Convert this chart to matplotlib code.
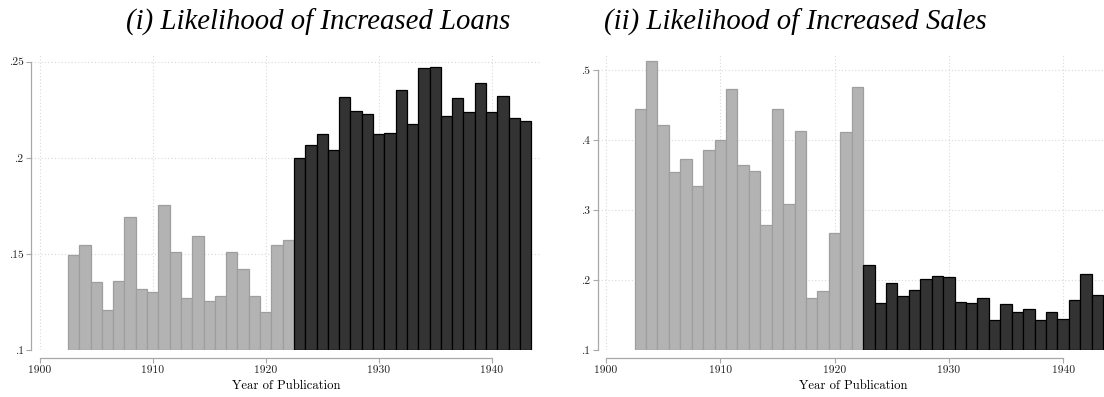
import matplotlib
matplotlib.use("Agg")
import matplotlib.pyplot as plt
import numpy as np

# Publication years and shares of titles with an increase
years = list(range(1903, 1944))
cutoff_year = 1923  # first year of the later period

loans = [0.1495, 0.1546, 0.1357, 0.1210, 0.1360, 0.1693, 0.1320, 0.1302, 0.1755, 0.1511,
         0.1274, 0.1593, 0.1258, 0.1284, 0.1510, 0.1424, 0.1281, 0.1198, 0.1546, 0.1572,
         0.2001, 0.2067, 0.2126, 0.2043, 0.2315, 0.2244, 0.2227, 0.2125, 0.2128, 0.2353,
         0.2175, 0.2466, 0.2473, 0.2217, 0.2310, 0.2240, 0.2388, 0.2239, 0.2320, 0.2206,
         0.2190]

sales = [0.4443, 0.5130, 0.4220, 0.3547, 0.3729, 0.3343, 0.3857, 0.4009, 0.4733, 0.3643,
         0.3561, 0.2786, 0.4451, 0.3086, 0.4129, 0.1743, 0.1843, 0.2671, 0.4114, 0.4761,
         0.2214, 0.1676, 0.1961, 0.1780, 0.1861, 0.2019, 0.2057, 0.2052, 0.1690, 0.1680,
         0.1752, 0.1429, 0.1657, 0.1543, 0.1590, 0.1429, 0.1552, 0.1452, 0.1714, 0.2095,
         0.1795]

xticks = [1900, 1910, 1920, 1930, 1940]
loan_yticks = [0.10, 0.15, 0.20, 0.25]
loan_ylabels = [".1", ".15", ".2", ".25"]
sales_yticks = [0.1, 0.2, 0.3, 0.4, 0.5]
sales_ylabels = [".1", ".2", ".3", ".4", ".5"]

titles = ["(i) Likelihood of Increased Loans", "(ii) Likelihood of Increased Sales"]
xlabel = "Year of Publication"

W, H = 1104, 397
fig = plt.figure(figsize=(W / 100, H / 100), dpi=100)


def px_axes(left, right, top, bottom):
    return fig.add_axes([left / W, (H - bottom) / H, (right - left) / W, (bottom - top) / H])


AXIS_GRAY = "#a8a8a8"
GRID_GRAY = "#d9d9d9"
LIGHT = "#b3b3b3"
LIGHT_EDGE = "#9e9e9e"
DARK = "#333333"
DARK_EDGE = "#000000"
TICK_FAMILY = "cmr10"
TICK_SIZE = 8.3


def draw_panel(ax, values, yticks, ylabels, xlim, ylim):
    yrs = np.array(years)
    vals = np.array(values)
    base = ylim[0]
    early = yrs < cutoff_year
    ax.bar(yrs[early], vals[early] - base, bottom=base, width=1.0,
           color=LIGHT, edgecolor=LIGHT_EDGE, linewidth=0.9, zorder=3)
    ax.bar(yrs[~early], vals[~early] - base, bottom=base, width=1.0,
           color=DARK, edgecolor=DARK_EDGE, linewidth=0.9, zorder=3)

    # axis lines first: repositioning a spine rebuilds the tick objects
    for side in ("top", "right"):
        ax.spines[side].set_visible(False)
    for side in ("left", "bottom"):
        ax.spines[side].set_color(AXIS_GRAY)
        ax.spines[side].set_linewidth(0.9)
    ax.spines["bottom"].set_position(("outward", 5.8))

    ax.set_xlim(*xlim)
    ax.set_ylim(*ylim)
    ax.set_xticks(xticks)
    ax.set_xticklabels([str(t) for t in xticks])
    ax.set_yticks(yticks)
    ax.set_yticklabels(ylabels)
    ax.spines["left"].set_bounds(yticks[0], yticks[-1])
    ax.spines["bottom"].set_bounds(xticks[0], xticks[-1])
    ax.tick_params(direction="out", length=3.3, width=0.8, color=AXIS_GRAY,
                   labelcolor="#222222", labelsize=TICK_SIZE, pad=2.0)
    for lab in ax.get_xticklabels() + ax.get_yticklabels():
        lab.set_fontfamily(TICK_FAMILY)

    ax.grid(True, color=GRID_GRAY, linestyle=(0, (1, 2)), linewidth=0.8, zorder=0)
    ax.set_axisbelow(True)


ax1 = px_axes(31, 540, 54, 350.3)
draw_panel(ax1, loans, loan_yticks, loan_ylabels, (1899.23, 1944.27), (0.10, 0.254))

ax2 = px_axes(597.7, 1112, 54, 350.3)
draw_panel(ax2, sales, sales_yticks, sales_ylabels, (1899.27, 1944.27), (0.10, 0.5233))

title_font = dict(family="Liberation Serif", style="italic", size=20.7)
fig.text(318 / W, (H - 30) / H, titles[0], ha="center", va="baseline", **title_font)
fig.text(795 / W, (H - 30) / H, titles[1], ha="center", va="baseline", **title_font)

label_font = dict(family="cmr10", size=9.1)
fig.text(286 / W, (H - 389) / H, xlabel, ha="center", va="baseline", **label_font)
fig.text(853 / W, (H - 389) / H, xlabel, ha="center", va="baseline", **label_font)

fig.savefig("out.png", dpi=100)
